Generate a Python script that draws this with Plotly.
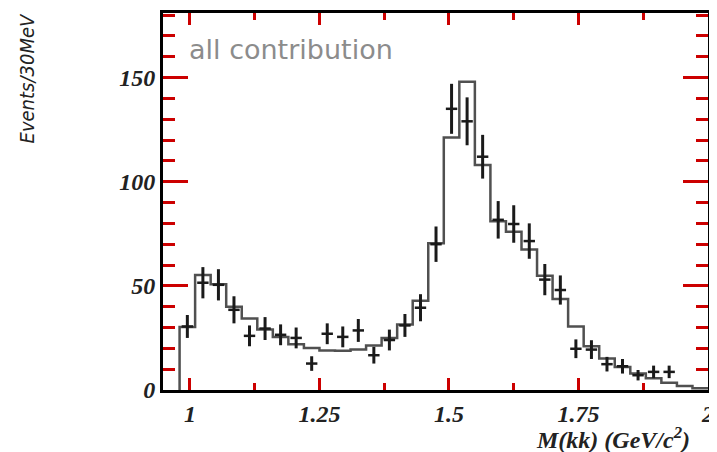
import plotly.graph_objects as go

# ---- data ----
hist_left_edges = [0.98, 1.01, 1.04, 1.07, 1.10, 1.13, 1.16, 1.19, 1.22, 1.25,
                   1.28, 1.31, 1.34, 1.37, 1.40, 1.43, 1.46, 1.49, 1.52, 1.55,
                   1.58, 1.61, 1.64, 1.67, 1.70, 1.73, 1.76, 1.79, 1.82, 1.85,
                   1.88, 1.91, 1.94, 1.97]
hist_right_end = 2.00
hist_values = [30.2, 55.2, 50.8, 40.0, 34.3, 29.0, 25.5, 22.0, 20.2, 19.0,
               18.8, 19.4, 21.4, 25.0, 31.5, 42.9, 70.4, 121.2, 148.0, 108.0,
               81.0, 76.0, 67.5, 54.8, 43.7, 30.5, 21.0, 15.1, 11.1, 7.9,
               5.6, 3.5, 1.9, 0.8]

data_x = [0.995, 1.025, 1.055, 1.085, 1.115, 1.145, 1.175, 1.205, 1.235, 1.265,
          1.295, 1.325, 1.355, 1.385, 1.415, 1.445, 1.475, 1.505, 1.535, 1.565,
          1.595, 1.625, 1.655, 1.685, 1.715, 1.745, 1.775, 1.805, 1.835, 1.865,
          1.895, 1.925]
data_y = [30.5, 51.5, 50.5, 38.5, 26.0, 29.5, 26.5, 25.0, 12.7, 27.0,
          25.5, 28.6, 16.7, 24.0, 31.0, 39.5, 70.0, 135.0, 129.0, 112.0,
          81.7, 79.7, 71.5, 53.0, 48.0, 19.8, 19.4, 12.4, 11.4, 7.1,
          8.7, 8.7]
data_err = [5.5, 7.5, 7.5, 6.5, 5.0, 5.5, 5.0, 5.0, 3.5, 5.0,
            5.0, 5.5, 4.0, 5.0, 5.5, 6.5, 8.5, 12.0, 11.5, 10.5,
            9.0, 9.0, 8.5, 7.5, 7.0, 4.5, 4.5, 3.5, 3.5, 2.5,
            3.0, 3.0]
data_xerr = [0.011] * len(data_x)

x_tick_vals = [1, 1.25, 1.5, 1.75, 2]
x_tick_text = ["1", "1.25", "1.5", "1.75", "2"]
x_minor_vals = [1.125, 1.375, 1.625, 1.875]
y_tick_vals = [0, 50, 100, 150]
y_tick_text = ["0", "50", "100", "150"]
y_minor_vals = [10, 20, 30, 40, 60, 70, 80, 90, 110, 120, 130, 140, 160, 170, 180]

X_RANGE = [0.948, 2.0]
Y_RANGE = [0, 181]

# page body has an 8px margin: figure coordinates = page pixels - 8
OFF = 8
W, H = 717 - OFF, 452 - OFF
L, R, T, B = 163 - OFF, W - (708 - OFF), 10 - OFF, H - (390 - OFF)
PW, PH = W - L - R, H - T - B


def px_x(p):
    return (p - OFF - L) / PW


def px_y(p):
    return (H - B - (p - OFF)) / PH


# ---- build step outline ----
step_x = [hist_left_edges[0]] + hist_left_edges + [hist_right_end]
step_y = [0] + hist_values + [hist_values[-1]]

TICK = "#cc0000"

fig = go.Figure()
fig.add_trace(go.Scatter(x=step_x, y=step_y, mode="lines",
                         line=dict(shape="hv", color="#505050", width=2.5),
                         hoverinfo="skip", showlegend=False))
fig.add_trace(go.Scatter(x=data_x, y=data_y, mode="markers",
                         marker=dict(size=1, color="#1a1a1a"),
                         error_y=dict(type="data", array=data_err, thickness=3,
                                      width=0, color="#1a1a1a"),
                         error_x=dict(type="data", array=data_xerr, thickness=2.5,
                                      width=0, color="#1a1a1a"),
                         showlegend=False))

tick_font = dict(family="Liberation Serif", size=24, color="#222",
                 weight="bold", style="italic")

fig.update_layout(
    width=W, height=H,
    margin=dict(l=L, r=R, t=T, b=B),
    plot_bgcolor="white",
    xaxis=dict(range=X_RANGE, zeroline=False, showgrid=False,
               showline=True, linecolor="black", linewidth=3, mirror="allticks",
               ticks="inside", ticklen=12, tickwidth=3, tickcolor=TICK,
               tickmode="array", tickvals=x_tick_vals, ticktext=x_tick_text,
               tickfont=tick_font,
               minor=dict(ticks="inside", tickvals=x_minor_vals, ticklen=7,
                          tickwidth=3, tickcolor=TICK)),
    yaxis=dict(range=Y_RANGE, zeroline=False, showgrid=False,
               showline=True, linecolor="black", linewidth=3, mirror="allticks",
               ticks="inside", ticklen=25, tickwidth=3, tickcolor=TICK,
               tickmode="array", tickvals=y_tick_vals, ticktext=y_tick_text,
               tickfont=tick_font,
               minor=dict(ticks="inside", tickvals=y_minor_vals, ticklen=12,
                          tickwidth=3, tickcolor=TICK)),
    annotations=[
        dict(text="all contribution", xref="paper", yref="paper",
             x=px_x(187), y=px_y(47), xanchor="left", yanchor="middle",
             showarrow=False,
             font=dict(family="DejaVu Sans", size=27, color="#8c8c8c")),
        dict(text="M(kk) (GeV/c<sup>2</sup>)", xref="paper", yref="paper",
             x=px_x(692), y=px_y(438), xanchor="right", yanchor="middle",
             showarrow=False,
             font=dict(family="Liberation Serif", size=24, color="#222",
                       weight="bold", style="italic")),
        dict(text="Events/30MeV", xref="paper", yref="paper",
             x=px_x(27), y=px_y(76), xanchor="center", yanchor="middle",
             textangle=-90, showarrow=False,
             font=dict(family="DejaVu Sans Condensed, Liberation Sans Narrow, Liberation Sans",
                       size=20, color="#222", style="italic")),
    ],
)

fig.write_html("out.html")
